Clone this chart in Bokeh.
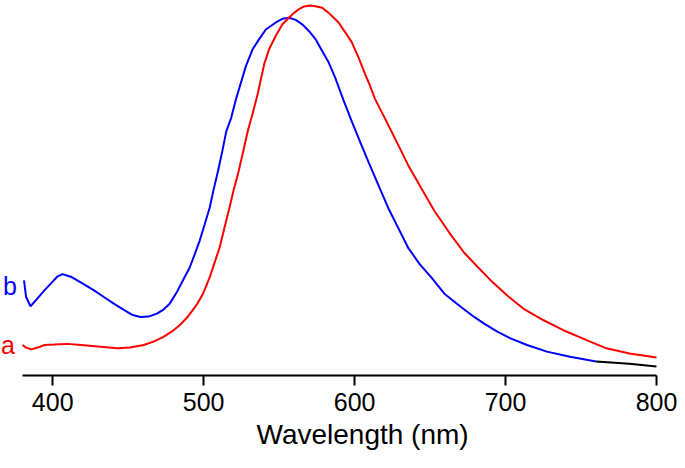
from bokeh.plotting import figure
from bokeh.models import Range1d, Label, FixedTicker, Title
from bokeh.embed import file_html
from bokeh.resources import INLINE

# Spectrum a (red)
wl_a = [380, 382.4, 385.7, 390.1, 394.5, 401.1, 409.8, 420.8, 431.7, 442.7, 451.4, 460.2,
        466.8, 473.4, 478.8, 484.3, 489.8, 495.2, 499.6, 504.0, 507.3, 510.6, 513.8, 517.1,
        519.7, 522.6, 525.9, 529.2, 532.5, 535.8, 540.1, 543.4, 547.8, 552.2, 556.5, 559.8,
        563.1, 566.4, 570.8, 574.0, 578.5, 582.8, 589.4, 593.7, 598.2, 602.5, 606.9, 610.2,
        613.5, 620.1, 627.8, 635.4, 644.2, 652.9, 662.8, 672.6, 681.4, 690.2, 701.1, 712.0,
        725.2, 738.3, 753.7, 766.8, 782.2, 800]
abs_a = [0.080, 0.073, 0.068, 0.073, 0.080, 0.081, 0.083, 0.079, 0.075, 0.071, 0.073, 0.080,
         0.089, 0.102, 0.116, 0.134, 0.158, 0.188, 0.219, 0.263, 0.304, 0.344, 0.398, 0.452,
         0.497, 0.541, 0.599, 0.659, 0.708, 0.760, 0.841, 0.882, 0.918, 0.949, 0.967, 0.980,
         0.990, 0.997, 1.000, 0.998, 0.994, 0.980, 0.954, 0.928, 0.900, 0.860, 0.815, 0.783,
         0.747, 0.694, 0.631, 0.568, 0.505, 0.443, 0.384, 0.330, 0.292, 0.255, 0.214, 0.178,
         0.147, 0.120, 0.093, 0.071, 0.057, 0.046]

# Spectrum b (blue)
wl_b = [381, 382.4, 385.3, 390.1, 394.5, 398.9, 403.0, 406.5, 412.0, 420.8, 427.4, 433.9,
        440.5, 447.1, 452.5, 458.0, 463.5, 469.0, 473.4, 477.5, 482.1, 486.5, 490.8, 494.1,
        497.4, 500.7, 504.0, 506.6, 509.5, 512.3, 515.0, 518.2, 521.5, 528.1, 532.5, 536.8,
        541.2, 547.8, 552.2, 556.5, 561.0, 565.3, 569.7, 574.1, 578.5, 582.8, 587.2, 592.7,
        598.2, 603.6, 609.1, 615.7, 622.2, 628.8, 635.4, 643.1, 650.8, 659.5, 670.5, 679.2,
        685.8, 694.5, 703.3, 714.2, 727.4, 742.7, 760]
abs_b = [0.255, 0.210, 0.185, 0.207, 0.228, 0.247, 0.265, 0.272, 0.265, 0.244, 0.228, 0.210,
         0.192, 0.175, 0.162, 0.156, 0.157, 0.165, 0.176, 0.192, 0.222, 0.257, 0.290, 0.326,
         0.363, 0.407, 0.452, 0.501, 0.551, 0.604, 0.659, 0.695, 0.747, 0.837, 0.882, 0.909,
         0.935, 0.954, 0.964, 0.967, 0.961, 0.949, 0.931, 0.909, 0.877, 0.846, 0.804, 0.743,
         0.685, 0.631, 0.577, 0.514, 0.452, 0.398, 0.344, 0.299, 0.263, 0.219, 0.183, 0.156,
         0.138, 0.116, 0.098, 0.080, 0.062, 0.048, 0.035]

# Tail (black)
wl_c = [760, 782, 800]
abs_c = [0.035, 0.029, 0.0215]

x_ticks = [400, 500, 600, 700, 800]
series_labels = ["a", "b"]
x_title = "Wavelength (nm)"

FONT = "Liberation Sans"

p = figure(width=677, height=452, output_backend="svg", toolbar_location=None,
           x_range=Range1d(365.43, 813.91), y_range=Range1d(-0.0027, 1.01355),
           y_axis_location=None,
           min_border_left=0, min_border_right=0, min_border_top=0, min_border_bottom=77)
p.grid.visible = False
p.outline_line_color = None
p.background_fill_color = "white"

p.line(wl_c, abs_c, line_color="black", line_width=2)
p.line(wl_b, abs_b, line_color="#0000FF", line_width=2)
p.line(wl_a, abs_a, line_color="#FF0000", line_width=2)

ax = p.xaxis[0]
ax.ticker = FixedTicker(ticks=x_ticks)
ax.bounds = (380, 800)
ax.axis_line_width = 2
ax.axis_line_color = "black"
ax.major_tick_line_width = 2
ax.major_tick_line_color = "black"
ax.major_tick_out = 10
ax.major_tick_in = 0
ax.minor_tick_line_color = None
ax.major_label_text_font = FONT
ax.major_label_text_font_size = "25px"
ax.major_label_text_color = "black"
ax.major_label_standoff = 7

p.add_layout(Title(text=x_title, align="left", offset=256, standoff=6,
                   text_font=FONT, text_font_size="28px", text_font_style="normal",
                   text_color="black"), "below")

p.add_layout(Label(x=367.09, y=0.2385, text=series_labels[1], text_color="#0000FF",
                   text_font=FONT, text_font_size="25px", text_baseline="alphabetic"))
p.add_layout(Label(x=365.76, y=0.0788, text=series_labels[0], text_color="#FF0000",
                   text_font=FONT, text_font_size="25px", text_baseline="alphabetic"))

open("out.html", "w").write(file_html(p, INLINE))
